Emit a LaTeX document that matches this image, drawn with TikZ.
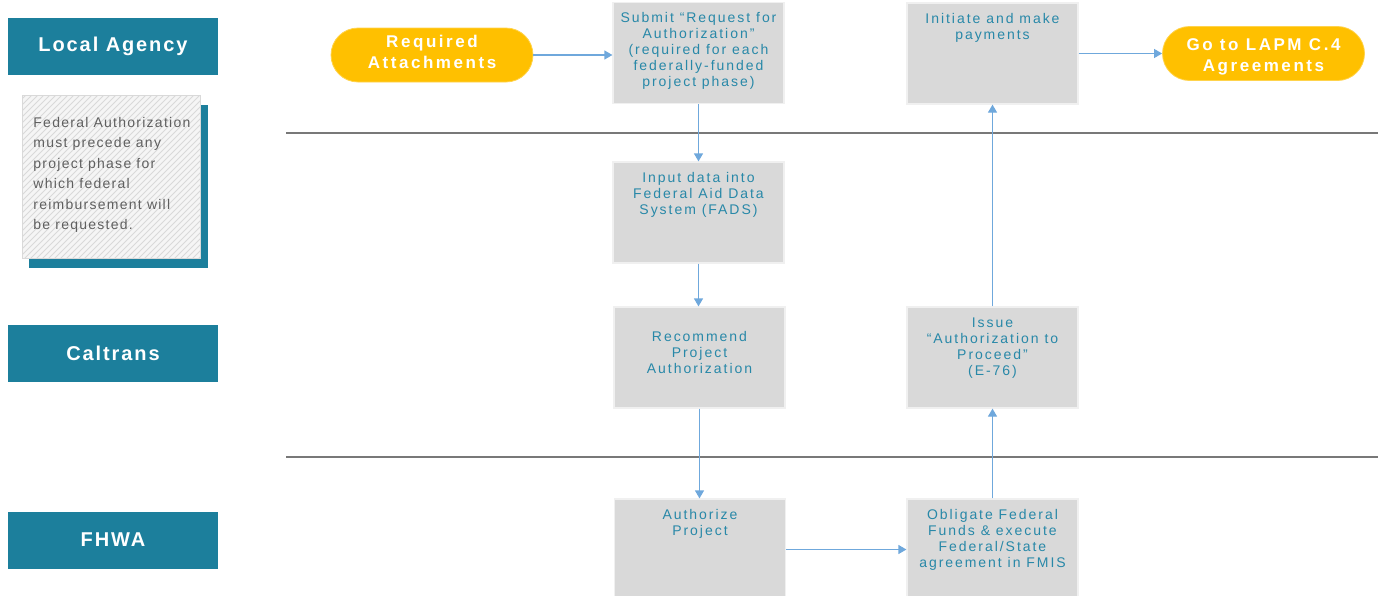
\documentclass[tikz,border=0pt]{standalone}
\usepackage{fontspec}
\setmainfont{Liberation Sans}
\newfontfamily\lanefont[LetterSpace=9.5]{Liberation Sans}
\newfontfamily\pillfont[LetterSpace=15]{Liberation Sans}
\newfontfamily\boxfont[LetterSpace=14]{Liberation Sans}
\newfontfamily\notefont[LetterSpace=9]{Liberation Sans}
\usetikzlibrary{patterns,arrows.meta}
\definecolor{tealA}{RGB}{28,127,156}
\definecolor{boxgray}{RGB}{217,217,217}
\definecolor{boxtxt}{RGB}{40,136,168}
\definecolor{arrowblue}{RGB}{111,168,220}
\definecolor{pillyellow}{RGB}{255,192,0}
\definecolor{divgray}{RGB}{120,120,120}
\definecolor{notetxt}{RGB}{95,95,95}
\newcommand\boxtext[2]{\parbox[c][50.5pt][t]{85.5pt}{\centering\rule{0pt}{#1}#2}}
\newcommand\pilltext[2]{\raisebox{#1}[\height][\depth]{\begin{tabular}{@{}c@{}}#2\end{tabular}}}
\tikzset{
  lane/.style={fill=tealA, text=white, inner sep=0pt, minimum width=105pt, minimum height=28.5pt,
    font=\lanefont\bfseries\fontsize{10}{12}\selectfont},
  pill/.style={fill=pillyellow, draw=pillyellow!70!white, line width=0.4pt, rounded corners=13.5pt,
    text=white, inner sep=0pt, minimum width=101pt, minimum height=27pt,
    font=\pillfont\bfseries\fontsize{8.5}{10.6}\selectfont},
  stepbox/.style={fill=boxgray, draw=gray!12, line width=0.6pt, inner sep=0pt, text=boxtxt,
    minimum width=85.5pt, minimum height=50.5pt,
    font=\boxfont\fontsize{7}{8}\selectfont},
  arr/.style={draw=arrowblue, line width=0.6pt, -{Triangle[length=4pt,width=4.5pt]}},
  divider/.style={draw=divgray, line width=1.3pt},
}
\begin{document}
\begin{tikzpicture}[x=0.5pt,y=-0.5pt]
\useasboundingbox (0,0) rectangle (1382,595);
\clip (0,0) rectangle (1382,595);
% lane labels
\node[lane] (la) at (113,46.5) {Local Agency};
\node[lane] (ct) at (113,353) {Caltrans};
\node[lane] (fh) at (113,540) {FHWA};
% note with shadow
\fill[tealA] (29,105) rectangle (208,268);
\node[draw=gray!30, line width=0.4pt, preaction={fill=gray!8}, pattern=north east lines, pattern color=gray!30,
  inner sep=0pt, minimum width=89pt, minimum height=81.5pt, anchor=north west,
  font=\notefont\fontsize{7}{10.25}\selectfont, text=notetxt] (note) at (22,95)
  {\hspace*{5.5pt}\parbox[c][81.5pt][t]{83.5pt}{\raggedright\rule{0pt}{16pt}Federal Authorization\\
  must precede any\\ project phase for\\ which federal\\ reimbursement will\\ be requested.}};
% dividers
\draw[divider] (286,133) -- (1378,133);
\draw[divider] (286,457) -- (1378,457);
% pills
\node[pill] (req) at (432,55) {\pilltext{0.5pt}{Required\\Attachments}};
\node[pill] (goto) at (1263.5,53.5) {\pilltext{-1.5pt}{Go to LAPM C.4\\Agreements}};
% process boxes
\node[stepbox] (submit) at (698.5,53) {\boxtext{9.85pt}{Submit “Request for\\ Authorization”\\ (required for each\\ federally-funded\\ project phase)}};
\node[stepbox] (initiate) at (992.5,53.5) {\boxtext{10.2pt}{Initiate and make\\ payments}};
\node[stepbox] (input) at (698.5,212.5) {\boxtext{10.2pt}{Input data into\\ Federal Aid Data\\ System (FADS)}};
\node[stepbox] (recommend) at (699.5,357.5) {\boxtext{17.2pt}{Recommend\\ Project\\ Authorization}};
\node[stepbox] (issue) at (992.5,357.5) {\boxtext{10.2pt}{Issue\\ “Authorization to\\ Proceed”\\ (E-76)}};
\node[stepbox] (authorize) at (700,549.5) {\boxtext{10.2pt}{Authorize\\ Project}};
\node[stepbox] (obligate) at (992.5,549.5) {\boxtext{10.2pt}{Obligate Federal\\ Funds \& execute\\ Federal/State\\ agreement in FMIS}};
% connectors
\draw[arr] (req.east) -- (req.east -| submit.west);
\draw[arr] (submit.south) -- (input.north);
\draw[arr] (input.south) -- (input.south |- recommend.north);
\draw[arr] (recommend.south) -- (recommend.south |- authorize.north);
\draw[arr] (authorize.east) -- (authorize.east -| obligate.west);
\draw[arr] (obligate.north) -- (issue.south);
\draw[arr] (issue.north) -- (initiate.south);
\draw[arr] (initiate.east) -- (initiate.east -| goto.west);
\end{tikzpicture}
\end{document}
